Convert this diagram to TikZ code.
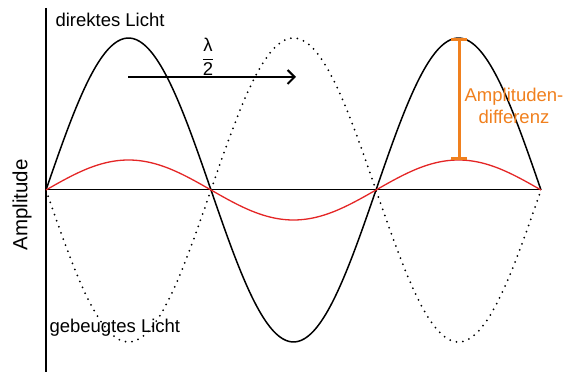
\documentclass[tikz,border=0pt]{standalone}
\usepackage{fontspec}
\setmainfont{Liberation Sans}
\usepackage{amsmath}
\usetikzlibrary{arrows.meta,positioning}
\definecolor{wavered}{RGB}{228,38,38}
\definecolor{diffor}{RGB}{240,128,30}

\begin{document}
\begin{tikzpicture}[x=1pt,y=1pt,
    lbl/.style={font=\fontsize{18.5}{22}\selectfont},
    wave/.style={line width=1.5pt,domain=0:495,samples=160,smooth}]
        \useasboundingbox (-46,-187) rectangle (519,190);
        % axes
        \draw[line width=2pt] (0,182) -- (0,-182);
        \draw[line width=1pt] (0,0) -- (495,0);
        % waves
        \draw[wave,black] plot (\x,{152*sin(\x/330*360)});
        \draw[wave,black,line width=2pt,line cap=round,dash pattern=on 0pt off 6.5pt]
          plot (\x,{-152*sin(\x/330*360)});
        \draw[wave,wavered,line width=1.3pt] plot (\x,{30*sin(\x/330*360)});
        % labels
        \node[lbl,anchor=west] (direkt) at (6,170) {direktes Licht};
        \node[lbl,anchor=west] (gebeugt) at (0,-138) {gebeugtes Licht};
        \node[font=\fontsize{20.5}{24}\selectfont,rotate=90] (ampl) at (-24,-15) {Amplitude};
        % lambda/2 shift
        \coordinate (shiftA) at (82,113);
        \coordinate (shiftB) at (250,113);
        \draw[line width=2pt,-{Straight Barb[length=7pt,width=14pt,line width=2pt]}] (shiftA) -- (shiftB);
        \node[lbl] (lam) at (162,133) {$\dfrac{\text{λ}}{\text{2}}$};
        % amplitude difference
        \coordinate (topA) at (413,152);
        \coordinate (topB) at (413,30);
        \draw[diffor,line width=3pt,{Bar[width=16pt,line width=3pt]}-{Bar[width=16pt,line width=3pt]}] (topA) -- (topB);
        \node[lbl,text=diffor,align=center] (diff) at (468,84) {Amplituden-\\differenz};
      \end{tikzpicture}
\end{document}
